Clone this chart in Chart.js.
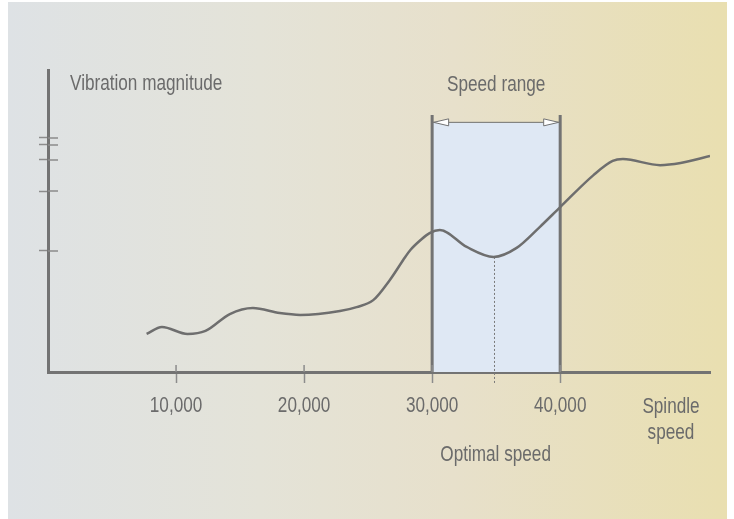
<!DOCTYPE html>
<html>
<head>
<meta charset="utf-8">
<script src="https://cdn.jsdelivr.net/npm/chart.js@4.4.1/dist/chart.umd.min.js"></script>
<style>
  body { margin: 0; background: #fff; }
  canvas { display: block; }
</style>
</head>
<body>
<canvas id="vibChart" width="734" height="519"></canvas>
<script>
// spindle speed (rpm) and vibration magnitude
const speeds = [7700, 8900, 10900, 12300, 14200, 16000, 18100, 19700, 22800, 24100, 25400, 26700, 27900, 28300,
                29100, 29800, 30600, 32700, 34800, 36600, 38400, 40000, 42600, 44100, 44900, 47800, 49400, 51700];
const vibration = [12.6, 14.9, 12.6, 13.6, 19.2, 21.2, 19.5, 18.9, 20.2, 21.5, 23.8, 30.5, 38.1, 40.4,
                   43.7, 46.0, 47.0, 41.4, 38.1, 41.1, 48.0, 54.6, 65.2, 69.9, 70.5, 68.5, 69.2, 71.5];
const xTicks = [10000, 20000, 30000, 40000];
const xTickLabels = ['10,000', '20,000', '30,000', '40,000'];
const yTicks = [40.1, 59.9, 70.2, 75.2, 77.5];
const speedRange = [30000, 40000];
const optimalSpeed = 34800;

const INK = '#6b6b6b';
const AXIS = '#737373';

// condensed look: normal sans squeezed horizontally
function label(ctx, text, x, y, align) {
    ctx.save();
    ctx.translate(x, y);
    ctx.scale(0.78, 1);
    ctx.textAlign = align || 'center';
    ctx.fillText(text, 0, 0);
    ctx.restore();
}

const decorPlugin = {
    id: 'decor',
    beforeDraw(chart) {
        const ctx = chart.ctx;
        ctx.save();
        ctx.fillStyle = '#fff';
        ctx.fillRect(0, 0, chart.width, chart.height);
        const g = ctx.createLinearGradient(8, 0, 727, 0);
        g.addColorStop(0, '#dee2e5');
        g.addColorStop(0.35, '#e4e3d8');
        g.addColorStop(0.62, '#e7e0cb');
        g.addColorStop(1, '#e9dfb0');
        ctx.fillStyle = g;
        ctx.fillRect(8, 2, 719, chart.height - 2);
        ctx.restore();
    },
    beforeDatasetsDraw(chart) {
        const ctx = chart.ctx;
        const x = chart.scales.x, y = chart.scales.y;
        const x1 = x.getPixelForValue(speedRange[0]);
        const x2 = x.getPixelForValue(speedRange[1]);
        const top = y.getPixelForValue(82.5);
        const bottom = y.getPixelForValue(0);
        ctx.save();
        // shaded speed range
        ctx.fillStyle = '#dfe8f4';
        ctx.fillRect(x1, top, x2 - x1, bottom - top);
        ctx.strokeStyle = AXIS;
        ctx.lineWidth = 3;
        const bTop = y.getPixelForValue(85.1);
        ctx.beginPath();
        ctx.moveTo(x1, bTop); ctx.lineTo(x1, bottom);
        ctx.moveTo(x2, bTop); ctx.lineTo(x2, bottom);
        ctx.stroke();
        // double arrow
        const ay = top - 0.5;
        ctx.lineWidth = 1;
        ctx.beginPath();
        ctx.moveTo(x1, ay); ctx.lineTo(x2, ay);
        ctx.stroke();
        ctx.fillStyle = '#fff';
        [[x1 + 1.5, 1], [x2 - 1.5, -1]].forEach(([ax, d]) => {
            ctx.beginPath();
            ctx.moveTo(ax, ay);
            ctx.lineTo(ax + d * 15, ay - 3.5);
            ctx.lineTo(ax + d * 15, ay + 3.5);
            ctx.closePath();
            ctx.fill();
            ctx.stroke();
        });
        // optimal speed dotted line
        const ox = Math.round(x.getPixelForValue(optimalSpeed)) + 0.5;
        ctx.setLineDash([2, 2]);
        ctx.strokeStyle = '#7a7a7a';
        ctx.beginPath();
        ctx.moveTo(ox, y.getPixelForValue(38.1));
        ctx.lineTo(ox, bottom + 11);
        ctx.stroke();
        ctx.restore();
    },
    afterDraw(chart) {
        const ctx = chart.ctx;
        const x = chart.scales.x, y = chart.scales.y;
        ctx.save();
        // upper halves of the axis tick marks
        ctx.strokeStyle = '#8c8c8c';
        ctx.lineWidth = 1.5;
        ctx.beginPath();
        xTicks.forEach(v => {
            const px = x.getPixelForValue(v);
            ctx.moveTo(px, y.bottom - 7); ctx.lineTo(px, y.bottom);
        });
        yTicks.forEach(v => {
            const py = y.getPixelForValue(v);
            ctx.moveTo(x.left, py); ctx.lineTo(x.left + 10, py);
        });
        ctx.stroke();
        // labels
        ctx.fillStyle = INK;
        ctx.font = "22px 'Liberation Sans', Arial, sans-serif";
        ctx.textBaseline = 'middle';
        xTicks.forEach((v, i) => label(ctx, xTickLabels[i], x.getPixelForValue(v), 406));
        label(ctx, 'Vibration magnitude', 70, 84, 'left');
        const mid = (x.getPixelForValue(speedRange[0]) + x.getPixelForValue(speedRange[1])) / 2;
        label(ctx, 'Speed range', mid, 85);
        label(ctx, 'Optimal speed', x.getPixelForValue(optimalSpeed) + 2, 455);
        label(ctx, 'Spindle', 671, 407);
        label(ctx, 'speed', 671, 433);
        ctx.restore();
    }
};

const ctx = document.getElementById('vibChart').getContext('2d');
window.vibChart = new Chart(ctx, {
    type: 'line',
    data: {
        datasets: [{
            label: 'Vibration magnitude',
            data: speeds.map((s, i) => ({ x: s, y: vibration[i] })),
            borderColor: '#6e6e6e',
            borderWidth: 2.5,
            pointRadius: 0,
            fill: false,
            cubicInterpolationMode: 'monotone'
        }]
    },
    options: {
        responsive: false,
        animation: false,
        layout: { padding: { left: 39, right: 24, top: 70, bottom: 107 } },
        plugins: { legend: { display: false }, tooltip: { enabled: false } },
        scales: {
            x: {
                type: 'linear',
                min: 0,
                max: 51700,
                afterBuildTicks: scale => { scale.ticks = xTicks.map(v => ({ value: v })); },
                afterFit: scale => { scale.height = 40; },
                grid: { drawOnChartArea: false, tickLength: 11, tickColor: '#8c8c8c', tickWidth: 1.5 },
                border: { color: AXIS, width: 3 },
                ticks: { display: false }
            },
            y: {
                min: 0,
                max: 100,
                afterBuildTicks: scale => { scale.ticks = yTicks.map(v => ({ value: v })); },
                afterFit: scale => { scale.width = 9; },
                grid: { drawOnChartArea: false, tickLength: 9, tickColor: '#8c8c8c', tickWidth: 1.5 },
                border: { color: AXIS, width: 3 },
                ticks: { display: false }
            }
        }
    },
    plugins: [decorPlugin]
});
</script>
</body>
</html>
